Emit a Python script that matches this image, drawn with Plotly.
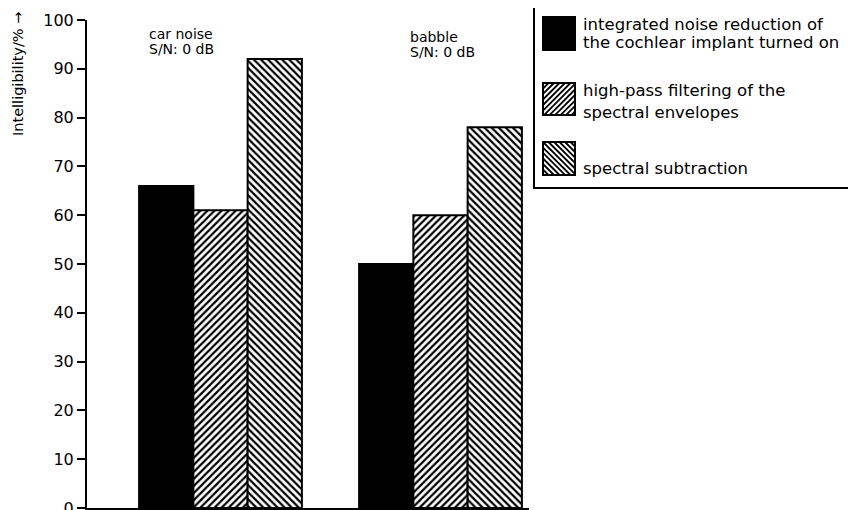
import plotly.graph_objects as go

# ---- data ----
conditions = ["car noise", "babble"]
condition_labels = [["car noise", "S/N: 0 dB"], ["babble", "S/N: 0 dB"]]
series_names = [
    ["integrated noise reduction of", "the cochlear implant turned on"],
    ["high-pass filtering of the", "spectral envelopes"],
    ["spectral subtraction"],
]
noise_reduction_on = [66, 50]
highpass_envelopes = [61, 60]
spectral_subtraction = [92, 78]
y_ticks = [0, 10, 20, 30, 40, 50, 60, 70, 80, 90, 100]

# page body has an 8px default margin; lay out in window pixels and compensate
OFF = 8
W, H = 856 - OFF, 510 - OFF
L, R, T, B = 87, 529, 20, 508   # plot area in window pixels
FONT = "DejaVu Sans"


def px_x(p):
    return (p - L) / (R - L)


def px_y(p):
    return (B - p) / (B - T)


fig = go.Figure()
styles = [
    dict(color="black", pattern=dict(shape="")),
    dict(color="white", pattern=dict(shape="/", size=5, solidity=0.45,
                                     fgcolor="black", bgcolor="white", fillmode="replace")),
    dict(color="white", pattern=dict(shape="\\", size=5, solidity=0.45,
                                     fgcolor="black", bgcolor="white", fillmode="replace")),
]
for name, vals, st in zip(series_names, [noise_reduction_on, highpass_envelopes, spectral_subtraction], styles):
    fig.add_trace(go.Bar(
        x=list(range(len(conditions))), y=vals, name=" ".join(name),
        marker=dict(color=st["color"], pattern=st["pattern"], line=dict(color="black", width=2)),
        showlegend=False,
    ))

shapes = []
annotations = []

# group labels
label_pos = [(147, 34, 49), (408, 37, 52)]
for (lx, y1, y2), lines in zip(label_pos, condition_labels):
    for yy, txt in zip((y1, y2), lines):
        annotations.append(dict(text=txt, xref="paper", yref="paper", x=px_x(lx), y=px_y(yy),
                                xanchor="left", yanchor="middle", showarrow=False,
                                font=dict(family=FONT, size=14, color="black")))

# y-axis title
annotations.append(dict(text="Intelligibility/% →", xref="paper", yref="paper",
                        x=px_x(18), y=px_y(74), textangle=-90, xanchor="center", yanchor="middle",
                        showarrow=False, font=dict(family=FONT, size=14.5, color="black")))

# custom legend
shapes.append(dict(type="rect", xref="paper", yref="paper", x0=px_x(534), x1=px_x(880),
                   y0=px_y(188), y1=px_y(7), line=dict(color="black", width=2), fillcolor="rgba(0,0,0,0)"))


def hatch_path(x0, y0, x1, y1, kind, step):
    segs = []
    w = x1 - x0
    hgt = y1 - y0
    c = -hgt
    while c < w:
        pts = []
        if kind == "/":
            k = c + hgt
            for u in (0, w):
                v = k - u
                if 0 <= v <= hgt:
                    pts.append((u, v))
            for v in (0, hgt):
                u = k - v
                if 0 <= u <= w:
                    pts.append((u, v))
        else:
            for u in (0, w):
                v = u - c
                if 0 <= v <= hgt:
                    pts.append((u, v))
            for v in (0, hgt):
                u = v + c
                if 0 <= u <= w:
                    pts.append((u, v))
        pts = sorted(set(pts))
        if len(pts) >= 2:
            (ua, va), (ub, vb) = pts[0], pts[-1]
            segs.append("M%.4f,%.4f L%.4f,%.4f" % (px_x(x0 + ua), px_y(y0 + va), px_x(x0 + ub), px_y(y0 + vb)))
        c += step
    return " ".join(segs)


swatches = [(543, 17, 575, 50, None), (543, 83, 575, 115, "/"), (543, 142, 575, 175, "\\")]
for (x0, y0, x1, y1, kind) in swatches:
    if kind is None:
        shapes.append(dict(type="rect", xref="paper", yref="paper", x0=px_x(x0), x1=px_x(x1),
                           y0=px_y(y1), y1=px_y(y0), line=dict(color="black", width=2), fillcolor="black"))
    else:
        shapes.append(dict(type="rect", xref="paper", yref="paper", x0=px_x(x0), x1=px_x(x1),
                           y0=px_y(y1), y1=px_y(y0), line=dict(color="black", width=2), fillcolor="white"))
        shapes.append(dict(type="path", xref="paper", yref="paper", path=hatch_path(x0, y0, x1, y1, kind, 5.5),
                           line=dict(color="black", width=1.8)))

legend_lines = [(series_names[0][0], 24), (series_names[0][1], 42),
                (series_names[1][0], 90), (series_names[1][1], 112),
                (series_names[2][0], 168)]
for txt, yy in legend_lines:
    annotations.append(dict(text=txt, xref="paper", yref="paper", x=px_x(581), y=px_y(yy),
                            xanchor="left", yanchor="middle", showarrow=False,
                            font=dict(family=FONT, size=16.5, color="black")))

unit = 220.0
x_lo = (L - 220.5) / unit
x_hi = x_lo + (R - L) / unit

fig.update_layout(
    width=W, height=H,
    margin=dict(l=L - OFF, r=856 - R, t=T - OFF, b=510 - B, pad=0, autoexpand=False),
    paper_bgcolor="white", plot_bgcolor="white",
    barmode="group", bargap=0.26, bargroupgap=0,
    font=dict(family=FONT, size=16, color="black"),
    xaxis=dict(range=[x_lo, x_hi], showticklabels=False, ticks="", showgrid=False, zeroline=False,
               showline=True, linecolor="black", linewidth=2, fixedrange=True, automargin=False),
    yaxis=dict(range=[0, 100], tickvals=y_ticks, ticks="outside", ticklen=8, tickwidth=2, tickcolor="black",
               showgrid=False, zeroline=False, showline=True, linecolor="black", linewidth=2,
               ticklabeloverflow="allow", automargin=False,
               tickfont=dict(family=FONT, size=16, color="black"), fixedrange=True),
    shapes=shapes, annotations=annotations,
)

fig.write_html("out.html")
